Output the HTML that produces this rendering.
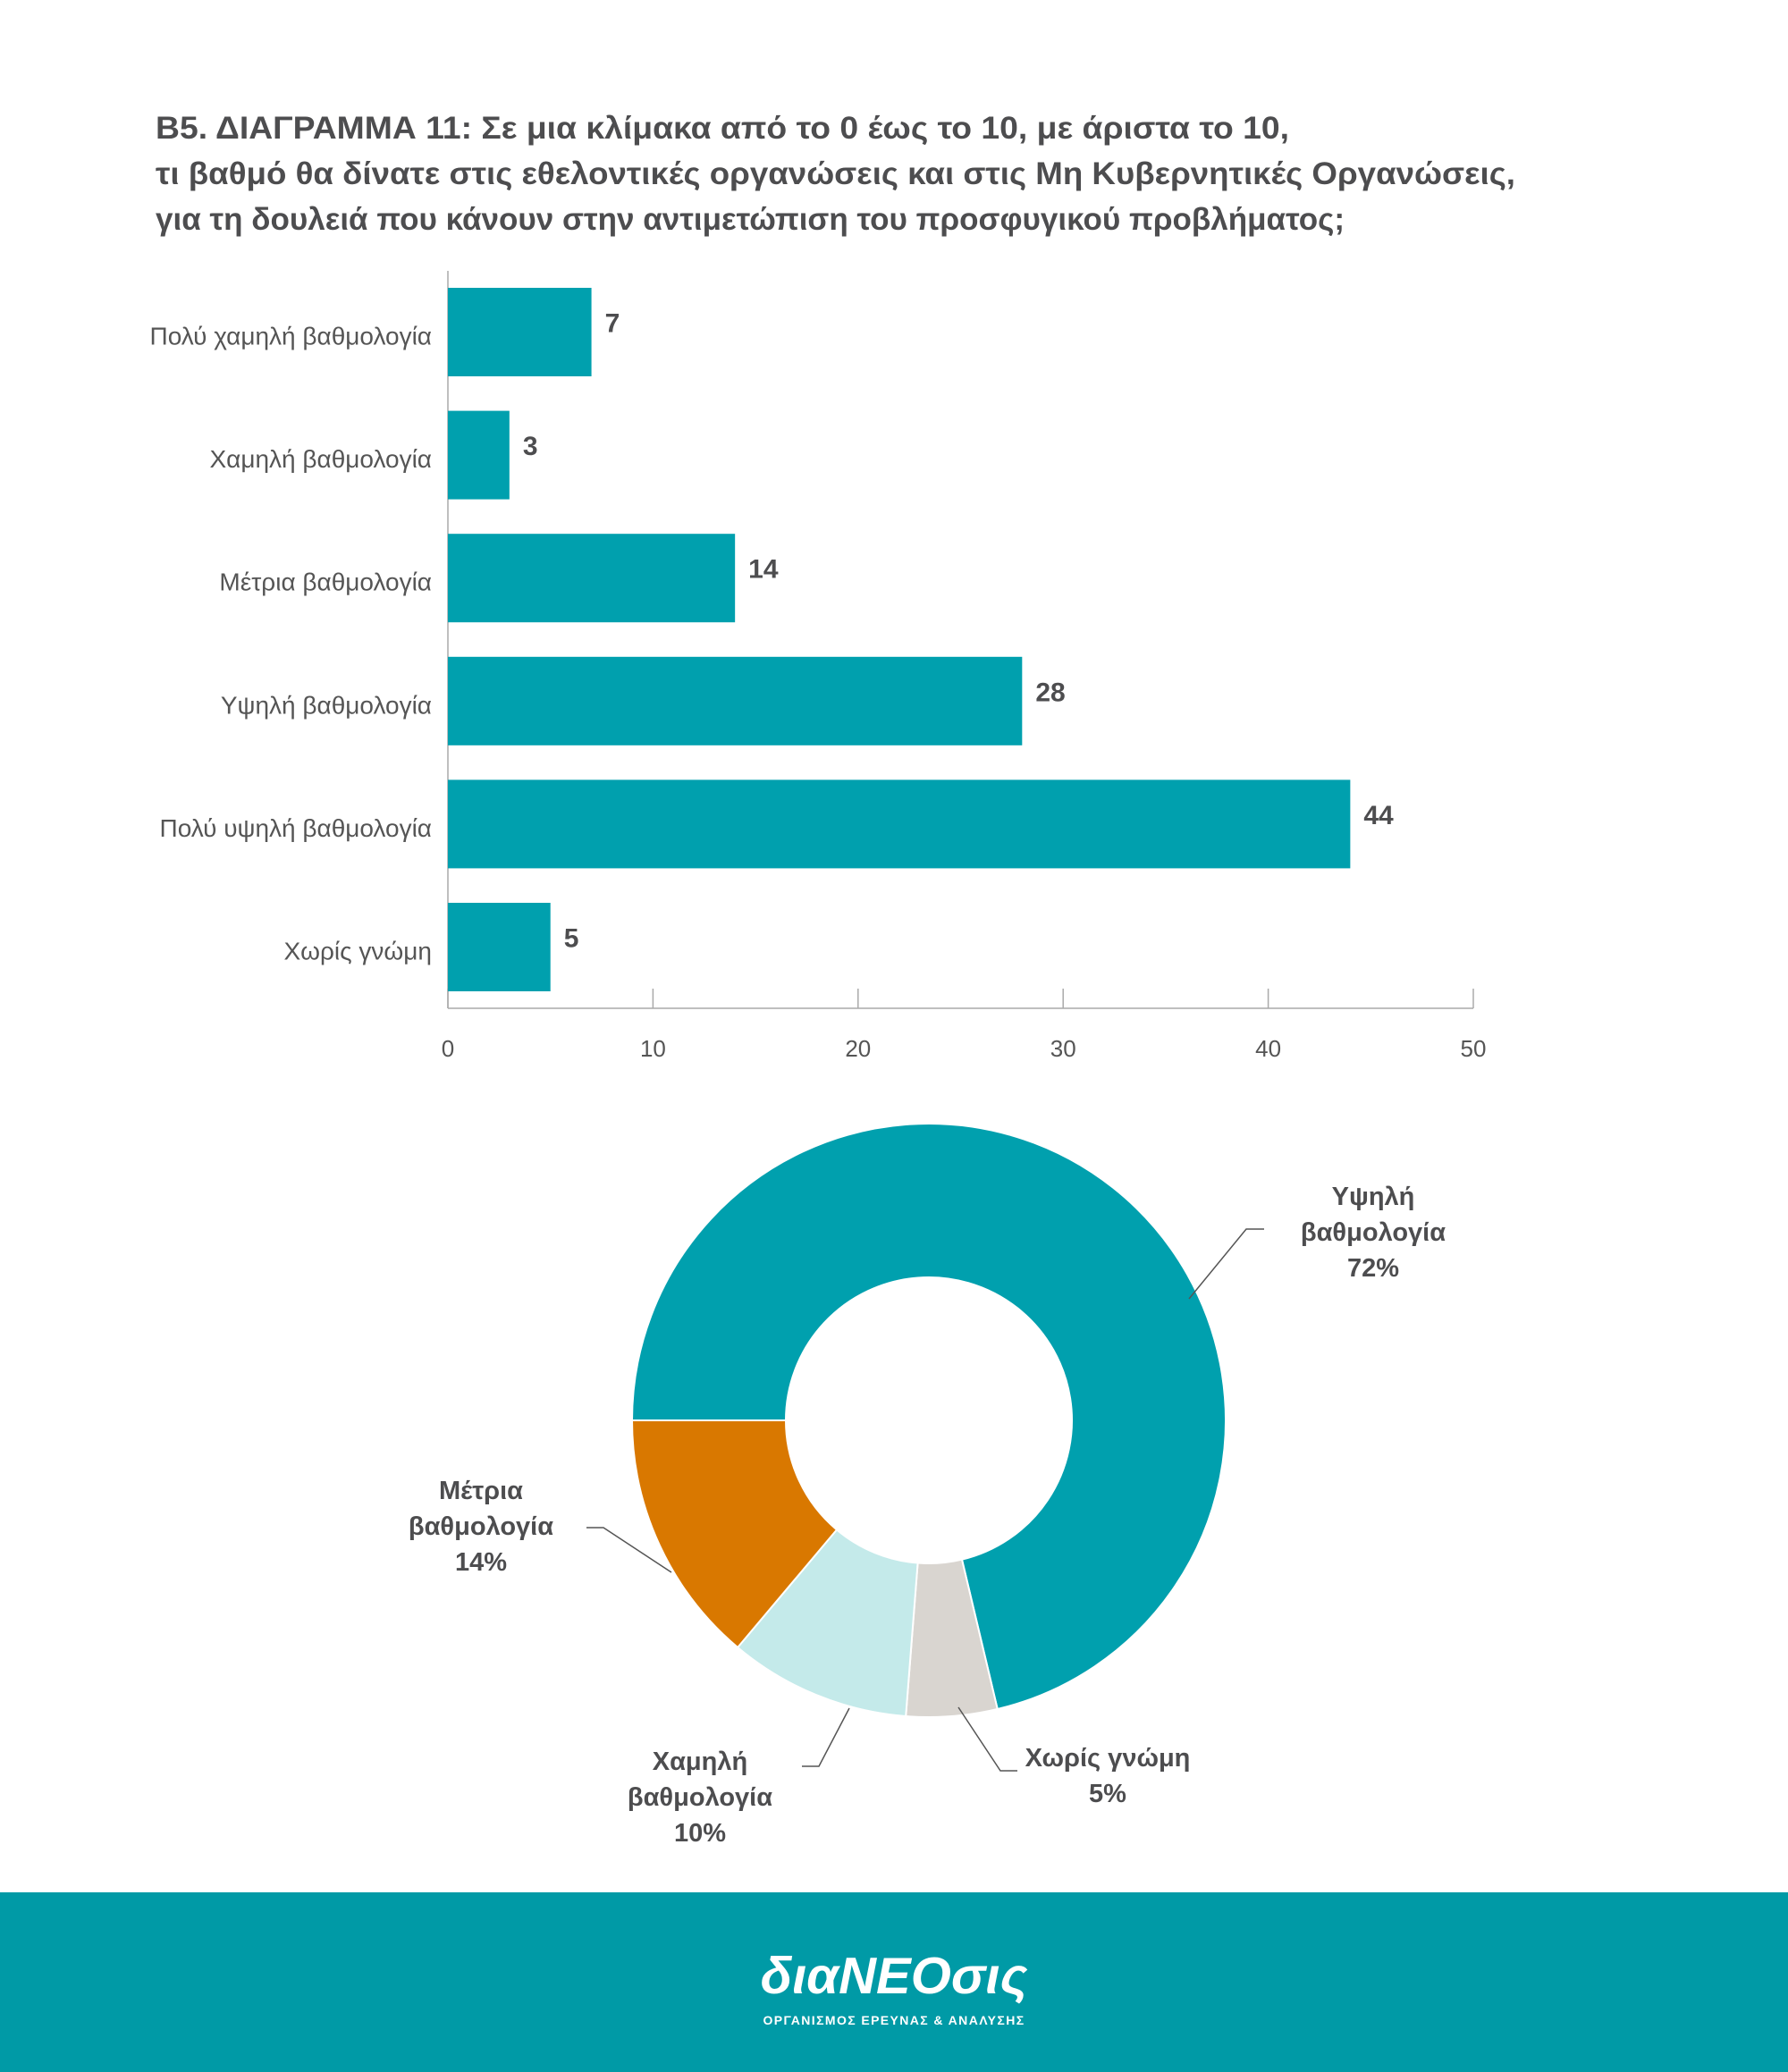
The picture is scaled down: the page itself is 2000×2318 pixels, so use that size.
<!DOCTYPE html>
<html><head><meta charset="utf-8"><style>
html,body{margin:0;padding:0;background:#fff}
svg{display:block}
text{font-family:"Liberation Sans","DejaVu Sans",sans-serif}
</style></head><body>
<svg id="chart" width="2000" height="2318" viewBox="0 0 2000 2318">
<g fill="#4d4d4f" font-weight="bold" font-size="35">
<text x="174" y="155" textLength="1268" lengthAdjust="spacingAndGlyphs">Β5. ΔΙΑΓΡΑΜΜΑ 11: Σε μια κλίμακα από το 0 έως το 10, με άριστα το 10,</text>
<text x="174" y="206" textLength="1521" lengthAdjust="spacingAndGlyphs">τι βαθμό θα δίνατε στις εθελοντικές οργανώσεις και στις Μη Κυβερνητικές Οργανώσεις,</text>
<text x="174" y="257" textLength="1330" lengthAdjust="spacingAndGlyphs">για τη δουλειά που κάνουν στην αντιμετώπιση του προσφυγικού προβλήματος;</text>
</g>
<g id="bars"></g>
<g id="pie"></g>
<rect x="0" y="2117" width="2000" height="201" fill="#009aa6"/>
<text x="1000" y="2230" text-anchor="middle" fill="#fff" font-size="58" font-style="italic" font-weight="bold">διαΝΕΟσις</text>
<text x="1000" y="2265" text-anchor="middle" fill="#fff" font-size="14" font-weight="bold" letter-spacing="1.4">ΟΡΓΑΝΙΣΜΟΣ ΕΡΕΥΝΑΣ &amp; ΑΝΑΛΥΣΗΣ</text>
</svg>
<script>
const barCategories = ["Πολύ χαμηλή βαθμολογία","Χαμηλή βαθμολογία","Μέτρια βαθμολογία","Υψηλή βαθμολογία","Πολύ υψηλή βαθμολογία","Χωρίς γνώμη"];
const barValues = [7,3,14,28,44,5];
const xTicks = [0,10,20,30,40,50];
const pieLabels = [["Υψηλή","βαθμολογία"],["Χωρίς γνώμη"],["Χαμηλή","βαθμολογία"],["Μέτρια","βαθμολογία"]];
const pieValues = [72,5,10,14];

const NS="http://www.w3.org/2000/svg";
function mk(tag,attrs,parent){const e=document.createElementNS(NS,tag);for(const k in attrs)e.setAttribute(k,attrs[k]);parent.appendChild(e);return e;}
const X0=501,X1=1648,XMAX=50;
const xs=v=>X0+(X1-X0)*v/XMAX;
const ROW0=322,PITCH=137.6,BH=99;
const ys=i=>ROW0+i*PITCH;
const bars=document.getElementById('bars');
const ax=mk('line',{x1:X0,y1:303,x2:X0,y2:1128,stroke:'#aaa','stroke-width':1.5},bars);

const bx=mk('line',{x1:X0,y1:1128,x2:X1,y2:1128,stroke:'#aaa','stroke-width':1.5},bars);

xTicks.forEach(t=>{
  const tk=mk('line',{x1:xs(t),y1:1106,x2:xs(t),y2:1128,stroke:'#aaa','stroke-width':1.5},bars);
  
  const tl=mk('text',{x:xs(t),y:1182,'text-anchor':'middle','font-size':26,fill:'#555'},bars);
  tl.textContent=t;
  
});
barCategories.forEach((c,i)=>{
  const y=ys(i);
  const r=mk('rect',{x:X0,y:y,width:xs(barValues[i])-X0,height:BH,fill:'#00a0ae'},bars);
  
  const l=mk('text',{x:483,y:y+BH/2+14,'text-anchor':'end','font-size':28,fill:'#555'},bars);
  l.textContent=c;
  
  const v=mk('text',{x:xs(barValues[i])+15,y:y+BH/2,'font-size':30,'font-weight':'bold',fill:'#4d4d4f'},bars);
  v.textContent=barValues[i];
  
});

const pie=document.getElementById('pie');
const CX=1039,CY=1589,RO=332,RI=160;
const colors=['#00a0ae','#d9d5d0','#c4eaea','#d97800'];
const total=pieValues.reduce((a,b)=>a+b,0);
let ang=Math.PI;
const pt=(a,r)=>[CX+r*Math.cos(a),CY+r*Math.sin(a)];
pieValues.forEach((v,i)=>{
  const a2=ang+2*Math.PI*v/total;
  const large=(a2-ang)>Math.PI?1:0;
  const p1=pt(ang,RO),p2=pt(a2,RO),p3=pt(a2,RI),p4=pt(ang,RI);
  const d=`M${p1}A${RO},${RO} 0 ${large} 1 ${p2}L${p3}A${RI},${RI} 0 ${large} 0 ${p4}Z`;
  const s=mk('path',{d:d,fill:colors[i],stroke:'#fff','stroke-width':2},pie);
  
  ang=a2;
});
const labelPos=[[1536,1348],[1239,1976],[783,1980],[538,1677]];
const leaders=["1330,1453 1394,1375 1414,1375","1072,1910 1119,1981 1138,1981","950,1911 916,1976 897,1976","751,1759 675,1709 656,1709"];
pieLabels.forEach((lines,i)=>{
  const all=lines.concat([pieValues[i]+'%']);
  all.forEach((t,j)=>{
    const tx=mk('text',{x:labelPos[i][0],y:labelPos[i][1]+j*40,'text-anchor':'middle','font-size':29,'font-weight':'bold',fill:'#4d4d4f'},pie);
    tx.textContent=t;
    
  });
  const ln=mk('polyline',{points:leaders[i],fill:'none',stroke:'#555','stroke-width':1.5},pie);
  
});
</script>
</body></html>
